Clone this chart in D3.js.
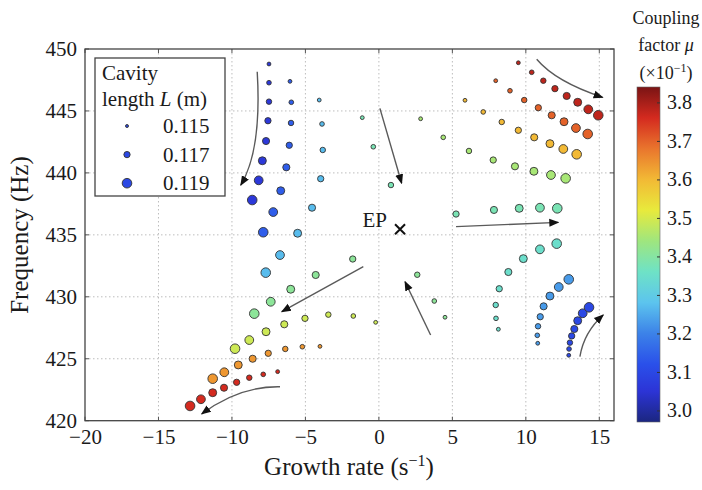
<!DOCTYPE html>
<html>
<head>
<meta charset="utf-8">
<script src="https://cdn.jsdelivr.net/npm/d3@7"></script>
<style>
  body { margin: 0; background: #fff; }
  svg text { font-family: "Liberation Serif", "DejaVu Serif", serif; fill: #1a1a1a; }
</style>
</head>
<body>
<div id="viz"></div>
<script>
// cavity length for the 8 points of every curve (m)
var cavityLength = [0.1155, 0.116, 0.1165, 0.117, 0.1175, 0.118, 0.1185, 0.119];

// coupling factor of every curve (x10^-1)
var couplingMu = [3.78, 3.70, 3.60, 3.45, 3.38, 3.41, 3.49, 3.64, 3.76, 3.06, 3.14, 3.27, 3.35, 3.23, 3.10];

// growth rate (1/s) of every curve
var growthRate = [
  [9.49, 10.40, 11.19, 11.98, 12.78, 13.53, 14.25, 14.93],
  [7.95, 8.92, 9.89, 10.85, 11.76, 12.60, 13.41, 14.21],
  [5.86, 7.10, 8.36, 9.49, 10.57, 11.64, 12.55, 13.46],
  [2.84, 4.38, 6.13, 7.78, 9.26, 10.55, 11.71, 12.71],
  [-1.13, -0.38, 0.82, 5.25, 7.83, 9.55, 10.96, 12.14],
  [4.50, 3.77, 2.61, -1.78, -4.30, -6.00, -7.36, -8.48],
  [-0.22, -1.74, -3.44, -5.03, -6.44, -7.68, -8.82, -9.79],
  [-4.01, -5.21, -6.37, -7.53, -8.59, -9.57, -10.52, -11.31],
  [-6.89, -7.87, -8.82, -9.68, -10.54, -11.31, -12.11, -12.85],
  [-7.48, -7.48, -7.48, -7.55, -7.68, -7.93, -8.18, -8.62],
  [-6.05, -5.96, -5.98, -6.10, -6.30, -6.68, -7.19, -7.87],
  [-4.06, -3.87, -3.82, -3.96, -4.55, -5.53, -6.73, -7.70],
  [8.13, 7.97, 7.95, 8.19, 8.81, 9.83, 10.96, 12.10],
  [10.81, 10.78, 10.83, 10.98, 11.21, 11.64, 12.24, 12.92],
  [12.92, 12.94, 13.00, 13.12, 13.30, 13.53, 13.87, 14.30]
];

// frequency (Hz) of every curve
var frequency = [
  [448.89, 448.12, 447.44, 446.80, 446.21, 445.70, 445.13, 444.65],
  [447.44, 446.63, 445.88, 445.26, 444.65, 444.13, 443.62, 443.14],
  [445.86, 444.92, 444.11, 443.44, 442.87, 442.36, 441.93, 441.50],
  [444.37, 442.87, 441.77, 441.04, 440.53, 440.13, 439.83, 439.56],
  [444.46, 442.11, 439.02, 436.68, 437.01, 437.14, 437.19, 437.14],
  [428.35, 429.66, 431.78, 433.05, 431.76, 430.61, 429.60, 428.64],
  [427.94, 428.45, 428.56, 428.26, 427.78, 427.18, 426.51, 425.81],
  [426.00, 425.97, 425.79, 425.44, 425.00, 424.50, 423.91, 423.39],
  [423.96, 423.74, 423.47, 423.10, 422.66, 422.26, 421.73, 421.19],
  [448.79, 447.28, 445.75, 444.21, 442.57, 440.98, 439.40, 437.81],
  [447.39, 445.70, 444.03, 442.23, 440.45, 438.56, 436.84, 435.21],
  [445.88, 443.95, 441.85, 439.53, 437.19, 435.13, 433.37, 431.95],
  [427.38, 428.26, 429.34, 430.65, 432.00, 433.08, 433.83, 434.29],
  [426.25, 426.89, 427.62, 428.39, 429.23, 430.06, 430.79, 431.41],
  [425.28, 425.79, 426.30, 426.84, 427.40, 428.07, 428.67, 429.15]
];

// arrows showing the direction of growing L: [start, (control), end]
var arrowPaths = [
  [[-8.28, 448.17], [-7.96, 441.85], [-9.40, 439.02]],
  [[0.07, 445.21], [1.55, 439.16]],
  [[10.74, 449.17], [12.05, 447.34], [15.23, 446.10]],
  [[5.25, 435.66], [12.21, 436.01]],
  [[-1.06, 432.43], [-6.61, 428.80]],
  [[-6.73, 422.74], [-9.52, 422.80], [-12.06, 420.54]],
  [[3.52, 426.92], [1.78, 431.22]],
  [[13.68, 425.17], [13.96, 427.16], [15.27, 428.53]]
];

var exceptionalPoint = [1.44, 435.45];

var xTicks = [-20, -15, -10, -5, 0, 5, 10, 15];
var yTicks = [420, 425, 430, 435, 440, 445, 450];
var legendLengths = [0.115, 0.117, 0.119];
var muTicks = [3.0, 3.1, 3.2, 3.3, 3.4, 3.5, 3.6, 3.7, 3.8];
var muStops = [2.97, 3.05, 3.12, 3.20, 3.28, 3.36, 3.44, 3.52, 3.60, 3.68, 3.76, 3.84];
var muColors = ["#1b2680", "#2c34d6", "#2a50ea", "#3c82e8", "#5cc4ee", "#6ee2c6",
                "#9fe67e", "#e8ea3c", "#f2b935", "#e9752d", "#d42a1f", "#7a1414"];

(function () {
  var width = 702, height = 490;
  var plotL = 85, plotR = 614, plotT = 49, plotB = 420.7;

  var svg = d3.select("#viz").append("svg")
    .attr("width", width)
    .attr("height", height);

  var x = d3.scaleLinear().domain([-20, 16]).range([plotL, plotR]);
  var y = d3.scaleLinear().domain([420, 450]).range([plotB, plotT]);
  var color = d3.scaleLinear().domain(muStops).range(muColors).interpolate(d3.interpolateRgb);
  var radius = d3.scaleLinear().domain([0.115, 0.119]).range([1.5, 4.8]);

  // dotted grid
  svg.append("g").selectAll("line")
    .data(xTicks.slice(1))
    .enter().append("line")
      .attr("x1", function(d) { return x(d); })
      .attr("x2", function(d) { return x(d); })
      .attr("y1", plotT).attr("y2", plotB)
      .attr("stroke", "#bdbdbd").attr("stroke-dasharray", "1.5,2.5");
  svg.append("g").selectAll("line")
    .data(yTicks.slice(1, -1))
    .enter().append("line")
      .attr("y1", function(d) { return y(d); })
      .attr("y2", function(d) { return y(d); })
      .attr("x1", plotL).attr("x2", plotR)
      .attr("stroke", "#bdbdbd").attr("stroke-dasharray", "1.5,2.5");

  // inward ticks on all four sides
  var tickLen = 4;
  xTicks.forEach(function(t) {
    svg.append("line").attr("x1", x(t)).attr("x2", x(t)).attr("y1", plotB).attr("y2", plotB - tickLen).attr("stroke", "#555");
    svg.append("line").attr("x1", x(t)).attr("x2", x(t)).attr("y1", plotT).attr("y2", plotT + tickLen).attr("stroke", "#555");
  });
  yTicks.forEach(function(t) {
    svg.append("line").attr("y1", y(t)).attr("y2", y(t)).attr("x1", plotL).attr("x2", plotL + tickLen).attr("stroke", "#555");
    svg.append("line").attr("y1", y(t)).attr("y2", y(t)).attr("x1", plotR).attr("x2", plotR - tickLen).attr("stroke", "#555");
  });

  // axis tick labels
  var xAxis = svg.append("g")
    .attr("transform", "translate(0," + plotB + ")")
    .call(d3.axisBottom(x).tickValues(xTicks).tickSize(0).tickPadding(8));
  var yAxis = svg.append("g")
    .attr("transform", "translate(" + plotL + ",0)")
    .call(d3.axisLeft(y).tickValues(yTicks).tickSize(0).tickPadding(8));
  [xAxis, yAxis].forEach(function(g) {
    g.select(".domain").remove();
    g.selectAll("text")
      .style("font-family", "'Liberation Serif', serif")
      .style("font-size", "21px")
      .attr("fill", "#1a1a1a");
  });

  // arrows
  var defs = svg.append("defs");
  defs.append("marker")
    .attr("id", "head")
    .attr("viewBox", "0 0 10 10")
    .attr("refX", 9).attr("refY", 5)
    .attr("markerWidth", 10).attr("markerHeight", 10)
    .attr("markerUnits", "userSpaceOnUse")
    .attr("orient", "auto")
    .append("path")
      .attr("d", "M0,1 L10,5 L0,9 Z")
      .attr("fill", "#111");

  svg.append("g").selectAll("path")
    .data(arrowPaths)
    .enter().append("path")
      .attr("d", function(p) {
        var pts = p.map(function(q) { return [x(q[0]), y(q[1])]; });
        if (pts.length === 2) return "M" + pts[0] + "L" + pts[1];
        return "M" + pts[0] + "Q" + pts[1] + " " + pts[2];
      })
      .attr("fill", "none")
      .attr("stroke", "#5a5a5a")
      .attr("stroke-width", 1.4)
      .attr("marker-end", "url(#head)");

  // points
  var points = [];
  couplingMu.forEach(function(mu, i) {
    cavityLength.forEach(function(L, j) {
      points.push({ g: growthRate[i][j], f: frequency[i][j], mu: mu, L: L });
    });
  });

  svg.append("g").selectAll("circle")
    .data(points)
    .enter().append("circle")
      .attr("cx", function(d) { return x(d.g); })
      .attr("cy", function(d) { return y(d.f); })
      .attr("r", function(d) { return radius(d.L); })
      .attr("fill", function(d) { return color(d.mu); })
      .attr("stroke", "#333")
      .attr("stroke-width", 0.9);

  // exceptional point
  var ep = svg.append("g")
    .attr("transform", "translate(" + x(exceptionalPoint[0]) + "," + y(exceptionalPoint[1]) + ")");
  ep.append("path").attr("d", "M-5,-5L5,5M-5,5L5,-5").attr("stroke", "#111").attr("stroke-width", 2);
  ep.append("text").attr("x", -13).attr("y", -2).attr("text-anchor", "end")
    .style("font-size", "21px").text("EP");

  // frame
  svg.append("rect")
    .attr("x", plotL).attr("y", plotT)
    .attr("width", plotR - plotL).attr("height", plotB - plotT)
    .attr("fill", "none").attr("stroke", "#444").attr("stroke-width", 1.3);

  // legend
  var legend = svg.append("g");
  legend.append("rect")
    .attr("x", 95).attr("y", 58).attr("width", 130).attr("height", 138)
    .attr("fill", "#fff").attr("stroke", "#444").attr("stroke-width", 1.3);
  legend.append("text").attr("x", 102).attr("y", 80).style("font-size", "21px").text("Cavity");
  var lt = legend.append("text").attr("x", 102).attr("y", 106).style("font-size", "21px");
  lt.append("tspan").text("length ");
  lt.append("tspan").style("font-style", "italic").text("L");
  lt.append("tspan").text(" (m)");
  legend.selectAll("circle.key")
    .data(legendLengths)
    .enter().append("circle")
      .attr("class", "key")
      .attr("cx", 127)
      .attr("cy", function(d, i) { return 126 + i * 28.6; })
      .attr("r", function(d) { return radius(d); })
      .attr("fill", color(3.1))
      .attr("stroke", "#333").attr("stroke-width", 0.9);
  legend.selectAll("text.key")
    .data(legendLengths)
    .enter().append("text")
      .attr("class", "key")
      .attr("x", 163)
      .attr("y", function(d, i) { return 133 + i * 28.6; })
      .style("font-size", "21px")
      .text(function(d) { return d3.format(".3f")(d); });

  // axis titles
  svg.append("text")
    .attr("x", 349).attr("y", 475)
    .attr("text-anchor", "middle")
    .style("font-size", "25px")
    .html("Growth rate (s<tspan dy='-9' font-size='16px'>\u22121</tspan><tspan dy='9'>)</tspan>");
  svg.append("text")
    .attr("transform", "translate(28,235) rotate(-90)")
    .attr("text-anchor", "middle")
    .style("font-size", "25px")
    .text("Frequency (Hz)");

  // colorbar
  var cbX = 637, cbW = 23, cbTop = 87, cbBottom = 422;
  var cb = d3.scaleLinear().domain([2.97, 3.84]).range([cbBottom, cbTop]);
  var grad = defs.append("linearGradient")
    .attr("id", "cbgrad")
    .attr("x1", 0).attr("y1", 1).attr("x2", 0).attr("y2", 0);
  grad.selectAll("stop")
    .data(muStops)
    .enter().append("stop")
      .attr("offset", function(d) { return (d - 2.97) / (3.84 - 2.97); })
      .attr("stop-color", function(d) { return color(d); });
  svg.append("rect")
    .attr("x", cbX).attr("y", cbTop).attr("width", cbW).attr("height", cbBottom - cbTop)
    .attr("fill", "url(#cbgrad)").attr("stroke", "#666").attr("stroke-width", 0.6);
  var cbAxis = svg.append("g")
    .attr("transform", "translate(" + (cbX + cbW) + ",0)")
    .call(d3.axisRight(cb).tickValues(muTicks).tickFormat(d3.format(".1f")).tickSizeInner(-3).tickSizeOuter(0).tickPadding(7));
  cbAxis.select(".domain").remove();
  cbAxis.selectAll("line").attr("stroke", "#333");
  cbAxis.selectAll("text")
    .style("font-family", "'Liberation Serif', serif")
    .style("font-size", "20px")
    .attr("fill", "#1a1a1a");

  var cbTitle = svg.append("g").attr("text-anchor", "middle").style("font-size", "18px");
  cbTitle.append("text").attr("x", 666).attr("y", 24).text("Coupling");
  var f2 = cbTitle.append("text").attr("x", 666).attr("y", 51);
  f2.append("tspan").text("factor ");
  f2.append("tspan").style("font-style", "italic").text("\u03bc");
  cbTitle.append("text").attr("x", 666).attr("y", 79)
    .html("(\u00d710<tspan dy='-7' font-size='12px'>\u22121</tspan><tspan dy='7'>)</tspan>");
})();
</script>
</body>
</html>
